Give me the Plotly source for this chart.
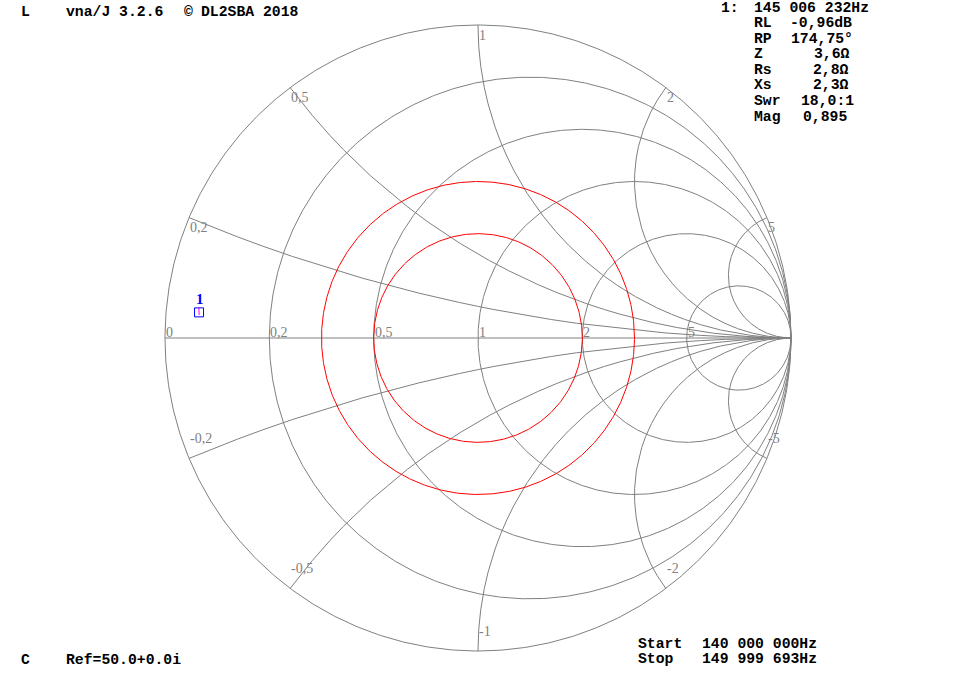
import numpy as np
import plotly.graph_objects as go

# ---------------- data ----------------
resistance_ticks = [0, 0.2, 0.5, 1, 2, 5]          # constant-resistance circles (normalised)
reactance_ticks = [0.2, 0.5, 1, 2, 5]              # constant-reactance arcs (+/-)
swr_circles = [2, 3]                               # red SWR circles

# measured sweep (reflection coefficient: magnitude, phase in degrees)
sweep_mag = [0.894, 0.895, 0.895, 0.896, 0.897]
sweep_phase = [175.3, 174.75, 174.4, 174.0, 173.8]

marker_mag = 0.895
marker_phase = 174.75
marker_label = "1"

header_parts = ["L", "vna/J 3.2.6", "©", "DL2SBA 2018"]
footer_parts = ["C", "Ref=50.0+0.0i"]
marker_title = ["1:", "145 006 232Hz"]
marker_names = ["RL", "RP", "Z", "Rs", "Xs", "Swr", "Mag"]
marker_values = ["-0,96dB", "174,75°", "3,6Ω", "2,8Ω", "2,3Ω", "18,0:1", "0,895"]
sweep_names = ["Start", "Stop"]
sweep_values = ["140 000 000Hz", "149 999 693Hz"]

# ---------------- helpers ----------------
W, H = 956, 674
CX, CY, R = 478.0, 338.0, 313.0   # chart centre / radius in pixels


def gamma(z):
    return (z - 1) / (z + 1)


def fmt(v):
    return ("%g" % v).replace(".", ",")


def px(x):
    return x / W


def py(y):
    return 1 - y / H


GRID = "#808080"

# grid lines
gx, gy = [], []
th = np.linspace(0, 2 * np.pi, 721)
for r in resistance_ticks:
    c = r / (1 + r)
    rad = 1 / (1 + r)
    gx += list(c + rad * np.cos(th)) + [None]
    gy += list(rad * np.sin(th)) + [None]

t = np.linspace(0, np.pi / 2, 3000)[:-1]
rr = np.tan(t)
for x in reactance_ticks:
    for s in (1, -1):
        g = gamma(rr + 1j * s * x)
        gx += list(g.real) + [1.0, None]
        gy += list(g.imag) + [0.0, None]

# real axis
gx += [-1, 1, None]
gy += [0, 0, None]

fig = go.Figure()
fig.add_trace(go.Scatter(x=gx, y=gy, mode="lines",
                         line=dict(color=GRID, width=1), hoverinfo="skip"))

# SWR circles
for s in swr_circles:
    m = (s - 1) / (s + 1)
    fig.add_trace(go.Scatter(x=m * np.cos(th), y=m * np.sin(th), mode="lines",
                             line=dict(color="#ff0000", width=1), hoverinfo="skip"))

# measured sweep
sm = np.array(sweep_mag)
sp = np.radians(sweep_phase)
fig.add_trace(go.Scatter(x=sm * np.cos(sp), y=sm * np.sin(sp), mode="lines",
                         line=dict(color="#ff00ff", width=1), hoverinfo="skip"))

# marker
mx = marker_mag * np.cos(np.radians(marker_phase))
my = marker_mag * np.sin(np.radians(marker_phase))
fig.add_trace(go.Scatter(x=[mx], y=[my], mode="markers",
                         marker=dict(symbol="square-open", size=9,
                                     color="#0000ff", line=dict(width=1, color="#0000ff")),
                         hoverinfo="skip"))

annotations = []
lab_font = dict(family="Liberation Serif", size=14, color=GRID)

# real-axis labels
for r in resistance_ticks:
    g = gamma(r)
    annotations.append(dict(x=g, y=0, xref="x", yref="y", text=fmt(r),
                            showarrow=False, xanchor="left", yanchor="middle",
                            xshift=-1, yshift=6, font=lab_font))
# reactance labels
for x in reactance_ticks:
    for s in (1, -1):
        g = gamma(1j * s * x)
        annotations.append(dict(x=g.real, y=g.imag, xref="x", yref="y",
                                text=fmt(s * x), showarrow=False,
                                xanchor="left", yanchor="middle",
                                xshift=-1, yshift=(-10 if s > 0 else 20),
                                font=lab_font))

annotations.append(dict(x=mx, y=my, xref="x", yref="y", text="<b>%s</b>" % marker_label,
                        showarrow=False, xanchor="center", yanchor="middle",
                        xshift=1, yshift=13,
                        font=dict(family="Liberation Serif", size=15, color="#0000ff")))

mono = dict(family="Liberation Mono", size=14.75, color="#000000")


def txt(s, x, y):
    annotations.append(dict(x=px(x), y=py(y), xref="paper", yref="paper",
                            text="<b>%s</b>" % s, showarrow=False,
                            xanchor="left", yanchor="middle", font=mono))


# header / footer
for s, x in zip(header_parts, [19, 64, 182, 199]):
    txt(s, x, 12)
for s, x in zip(footer_parts, [19, 64]):
    txt(s, x, 660)

# marker readout
txt(marker_title[0], 719, 7.5)
txt(marker_title[1], 752, 7.5)
value_x = [788, 789, 812, 811, 811, 799, 801]
for i, (n, v) in enumerate(zip(marker_names, marker_values)):
    yy = 23 + i * 15.6
    txt(n, 752, yy)
    txt(v, value_x[i], yy)

# sweep range
for i, (n, v) in enumerate(zip(sweep_names, sweep_values)):
    yy = 643.5 + i * 15.5
    txt(n, 636, yy)
    txt(v, 700, yy)

fig.update_layout(
    width=W, height=H,
    margin=dict(l=0, r=0, t=0, b=0),
    paper_bgcolor="white", plot_bgcolor="white",
    showlegend=False,
    xaxis=dict(range=[-CX / R, (W - CX) / R], visible=False, fixedrange=True),
    yaxis=dict(range=[-(H - CY) / R, CY / R], visible=False, fixedrange=True),
    annotations=annotations,
)

fig.write_html("out.html",
               config={"displayModeBar": False, "staticPlot": True},
               post_script="document.body.style.margin='0px';"
                           "document.body.style.overflow='hidden';")
